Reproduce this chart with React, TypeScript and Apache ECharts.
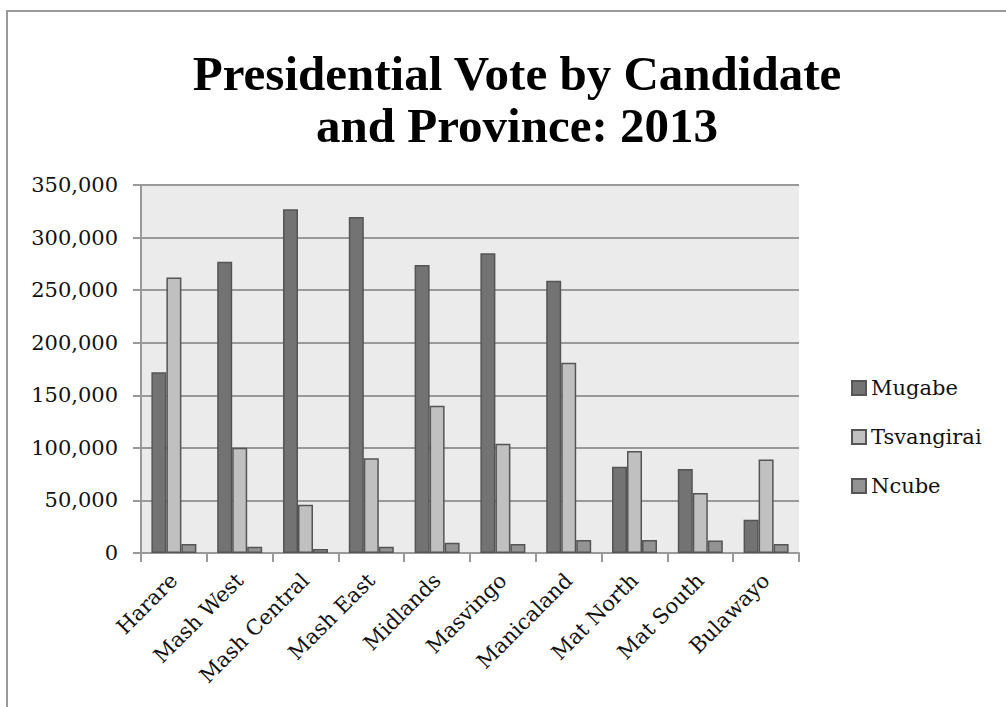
import React, { useEffect, useRef } from "react";
import * as echarts from "echarts";

const provinces = ["Harare", "Mash West", "Mash Central", "Mash East", "Midlands", "Masvingo", "Manicaland", "Mat North", "Mat South", "Bulawayo"];
const mugabe = [172000, 277000, 327000, 319500, 274000, 285000, 259000, 82000, 80000, 31700];
const tsvangirai = [262000, 100000, 46000, 90000, 140000, 104000, 181000, 97000, 57000, 89000];
const ncube = [8600, 6000, 3800, 6000, 9800, 8600, 12400, 12400, 12000, 8600];
const seriesNames = ["Mugabe", "Tsvangirai", "Ncube"];
const seriesFills = ["#737373", "#c0c0c0", "#939393"];
const titleText = "Presidential Vote by Candidate\nand Province: 2013";

export default function App() {
  const ref = useRef<HTMLDivElement>(null);
  useEffect(() => {
    if (!ref.current) return;
    const chart = echarts.init(ref.current, undefined, { renderer: "svg" });
    const labelFont = "DejaVu Serif";
    const data = [mugabe, tsvangirai, ncube];
    chart.setOption({
      animation: false,
      backgroundColor: "#ffffff",
      title: {
        text: titleText,
        left: 512,
        top: 42,
        textAlign: "center",
        textStyle: {
          fontFamily: "Liberation Serif",
          fontWeight: "bold",
          fontSize: 49,
          lineHeight: 52,
          color: "#000",
        },
      },
      graphic: [
        {
          type: "rect",
          shape: { x: 7, y: 11, width: 1200, height: 900 },
          style: { fill: "none", stroke: "#999", lineWidth: 2 },
          silent: true,
          z: -1,
        },
      ],
      legend: {
        orient: "vertical",
        left: 846,
        top: 372,
        itemWidth: 14,
        itemHeight: 14,
        itemGap: 27,
        icon: "rect",
        data: seriesNames,
        textStyle: { fontFamily: labelFont, fontSize: 21, lineHeight: 22, color: "#111" },
      },
      grid: {
        left: 141,
        right: 207,
        top: 185,
        bottom: 154,
        show: true,
        backgroundColor: "#ebebeb",
        borderWidth: 0,
      },
      xAxis: {
        type: "category",
        data: provinces,
        axisLine: { show: true, lineStyle: { color: "#999", width: 2 } },
        axisTick: { show: true, length: 9, lineStyle: { color: "#999", width: 2 } },
        axisLabel: {
          rotate: 45,
          margin: 24,
          interval: 0,
          fontFamily: labelFont,
          fontSize: 21,
          color: "#111",
        },
      },
      yAxis: {
        type: "value",
        min: 0,
        max: 350000,
        interval: 50000,
        axisLine: { show: true, lineStyle: { color: "#999", width: 2 } },
        axisTick: { show: true, length: 8, lineStyle: { color: "#999", width: 2 } },
        splitLine: { show: true, lineStyle: { color: "#999", width: 2 } },
        axisLabel: {
          margin: 23,
          fontFamily: labelFont,
          fontSize: 21,
          color: "#111",
          formatter: (v: number) => v.toLocaleString("en-US"),
        },
      },
      series: seriesNames.map((name, i) => ({
        name,
        type: "bar",
        data: data[i],
        barWidth: 15,
        barGap: "0%",
        itemStyle: { color: seriesFills[i], borderColor: "#555", borderWidth: 1.5 },
      })),
    });
    return () => chart.dispose();
  }, []);
  return (
    <div style={{ position: "absolute", left: 0, top: 0, width: 1006, height: 707 }}>
      <div ref={ref} style={{ width: 1006, height: 707 }} />
    </div>
  );
}
